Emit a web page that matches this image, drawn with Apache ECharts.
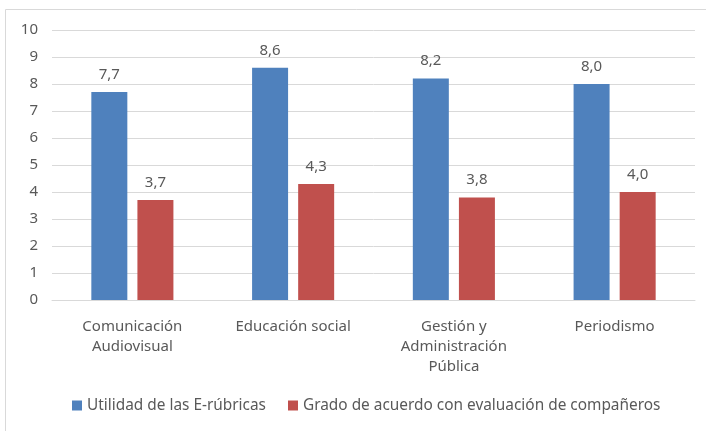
<!DOCTYPE html>
<html lang="es">
<head>
    <meta charset="UTF-8">
    <title>E-rúbricas</title>
    <style>
        html, body { margin: 0; padding: 0; background: #fff; }
    </style>
</head>
<body>
<div id="main" style="width:706px;height:431px;"></div>

<script src="https://cdn.jsdelivr.net/npm/echarts@6/dist/echarts.min.js"></script>
<script>
    var categories = ['Comunicación\nAudiovisual', 'Educación social', 'Gestión y\nAdministración\nPública', 'Periodismo'];
    var utilidad = [7.7, 8.6, 8.2, 8.0];
    var acuerdo = [3.7, 4.3, 3.8, 4.0];
    var yTicks = [0, 10, 1]; // min, max, interval

    var fontFam = '"Noto Sans", "Open Sans", sans-serif';
    var txtColor = '#595959';

    function coma(p) {
        return p.value.toFixed(1).replace('.', ',');
    }

    var myChart = echarts.init(document.getElementById('main'));
    myChart.setOption({
        animation: false,
        textStyle: { fontFamily: fontFam },
        graphic: [{
            type: 'rect',
            shape: { x: 5.5, y: 9.5, width: 720, height: 440 },
            style: { fill: 'none', stroke: '#d9d9d9', lineWidth: 1 },
            silent: true
        }],
        grid: { left: 52, right: 11, top: 30, bottom: 131 },
        legend: {
            bottom: 13,
            left: 67,
            itemWidth: 10,
            itemHeight: 10,
            itemGap: 22,
            icon: 'rect',
            textStyle: { color: txtColor, fontSize: 15.4, fontFamily: fontFam },
            data: ['Utilidad de las E-rúbricas', 'Grado de acuerdo con evaluación de compañeros']
        },
        xAxis: {
            type: 'category',
            data: categories,
            axisTick: { show: false },
            axisLine: { lineStyle: { color: '#d9d9d9' } },
            axisLabel: {
                color: txtColor,
                fontSize: 15,
                lineHeight: 20,
                margin: 17,
                interval: 0
            }
        },
        yAxis: {
            type: 'value',
            min: yTicks[0],
            max: yTicks[1],
            interval: yTicks[2],
            axisLine: { show: false },
            axisTick: { show: false },
            splitLine: { lineStyle: { color: '#d9d9d9' } },
            axisLabel: { color: txtColor, fontSize: 15, margin: 14 }
        },
        series: [{
            name: 'Utilidad de las E-rúbricas',
            type: 'bar',
            data: utilidad,
            barWidth: 36,
            barGap: '28%',
            itemStyle: { color: '#4f81bd' },
            label: {
                show: true,
                position: 'top',
                distance: 10,
                color: txtColor,
                fontSize: 15,
                formatter: coma
            }
        }, {
            name: 'Grado de acuerdo con evaluación de compañeros',
            type: 'bar',
            data: acuerdo,
            barWidth: 36,
            itemStyle: { color: '#c0504d' },
            label: {
                show: true,
                position: 'top',
                distance: 10,
                color: txtColor,
                fontSize: 15,
                formatter: coma
            }
        }]
    });
</script>
</body>
</html>
